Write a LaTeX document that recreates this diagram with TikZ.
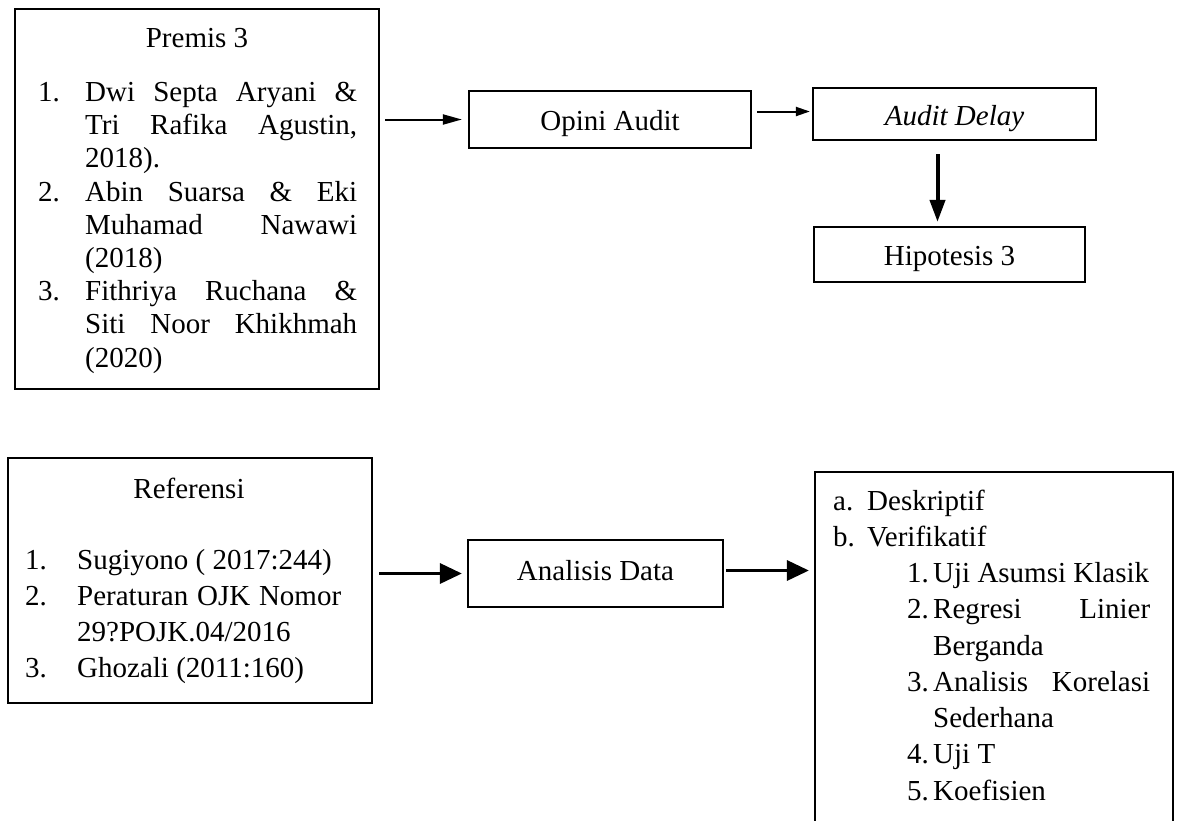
\documentclass[tikz,border=0pt]{standalone}
\usepackage{fontspec}
\setmainfont{Liberation Serif}
\usetikzlibrary{arrows.meta}
\newcommand\lstentry[4]{\par\hangindent=\dimexpr#1+#2\relax\hangafter=1\noindent\hspace*{#1}\makebox[#2][l]{#3}#4\par}
\newcommand\lstblock[3]{\parbox[t]{#1}{\tolerance=10000\hbadness=10000\setlength\baselineskip{#2}#3}}
\begin{document}
\begin{tikzpicture}[x=1pt,y=-1pt,
  every node/.style={font=\fontsize{29}{33}\selectfont},
  box/.style={draw, line width=2.2pt, rectangle, inner sep=0pt},
  plain/.style={inner sep=0pt},
  arrA/.style={line width=2pt, -{Triangle[length=19pt,width=10pt]}},
  arrB/.style={line width=2pt, -{Triangle[length=14pt,width=9pt]}},
  arrV/.style={line width=4pt, -{Triangle[length=22pt,width=15pt]}},
  arrL/.style={line width=3.3pt, -{Triangle[length=22pt,width=20pt]}}]
\path[use as bounding box] (0,0) rectangle (1178,820);
\clip (0,0) rectangle (1178,820);
\fill[white] (0,0) rectangle (1178,820);

% top row
\node[box, minimum width=364pt, minimum height=380pt] (premis) at (197,199) {};
\node[plain, anchor=base] (premisT) at (197,47) {Premis 3};
\node[plain, anchor=base west] (premisL) at (38,101.5) {\lstblock{319pt}{33.2pt}{%
 \lstentry{0pt}{47pt}{1.}{Dwi Septa Aryani \&\linebreak Tri Rafika Agustin,\linebreak 2018).}%
 \lstentry{0pt}{47pt}{2.}{Abin Suarsa \& Eki\linebreak Muhamad Nawawi\linebreak (2018)}%
 \lstentry{0pt}{47pt}{3.}{Fithriya Ruchana \&\linebreak Siti Noor Khikhmah\linebreak (2020)}}};

\node[box, text height=21pt, text depth=0pt, minimum width=282pt, minimum height=57pt] (opini) at (610,119.5) {Opini Audit};
\node[box, text height=22pt, text depth=0pt, minimum width=283pt, minimum height=52pt] (delay) at (954.5,114) {\itshape Audit Delay};
\node[box, text height=21pt, text depth=0pt, minimum width=271pt, minimum height=55pt] (hip) at (949.5,254.5) {Hipotesis 3};

\draw[arrA, shorten <=5pt, shorten >=6pt] (premis.east |- opini.west) -- (opini.west);
\draw[arrB, shorten <=5pt, shorten >=2pt] ([yshift=8pt]opini.east) -- ([yshift=8pt]opini.east -| delay.west);
\draw[arrV, shorten <=13pt, shorten >=4pt] ([xshift=-17pt]delay.south) -- ([xshift=-17pt]delay.south |- hip.north);

% bottom row
\node[box, minimum width=364pt, minimum height=245pt] (ref) at (190,580.5) {};
\node[plain, anchor=base] (refT) at (189,498.3) {Referensi};
\node[plain, anchor=base west] (refL) at (25,569.3) {\lstblock{316pt}{36pt}{%
 \lstentry{0pt}{52pt}{1.}{Sugiyono ( 2017:244)}%
 \lstentry{0pt}{52pt}{2.}{Peraturan OJK Nomor\linebreak 29?POJK.04/2016}%
 \lstentry{0pt}{52pt}{3.}{Ghozali (2011:160)}}};

\node[box, text height=19.5pt, text depth=6.5pt, minimum width=255pt, minimum height=67pt] (ana) at (595.5,573.5) {Analisis Data};

\node[box, minimum width=358pt, minimum height=428pt] (res) at (994,686) {};
\node[plain, anchor=base west] (resL) at (833,510) {\lstblock{317pt}{36.25pt}{%
 \lstentry{0pt}{34pt}{a.}{Deskriptif}%
 \lstentry{0pt}{34pt}{b.}{Verifikatif}%
 \lstentry{74pt}{26pt}{1.}{Uji~Asumsi~Klasik}%
 \lstentry{74pt}{26pt}{2.}{Regresi Linier\linebreak Berganda}%
 \lstentry{74pt}{26pt}{3.}{Analisis Korelasi\linebreak Sederhana}%
 \lstentry{74pt}{26pt}{4.}{Uji T}%
 \lstentry{74pt}{26pt}{5.}{Koefisien}}};

\draw[arrL, shorten <=6pt, shorten >=5pt] (ana.west -| ref.east) -- (ana.west);
\draw[arrL, shorten <=2pt, shorten >=5pt] ([yshift=3pt]ana.east) -- ([yshift=3pt]ana.east -| res.west);
\end{tikzpicture}
\end{document}
